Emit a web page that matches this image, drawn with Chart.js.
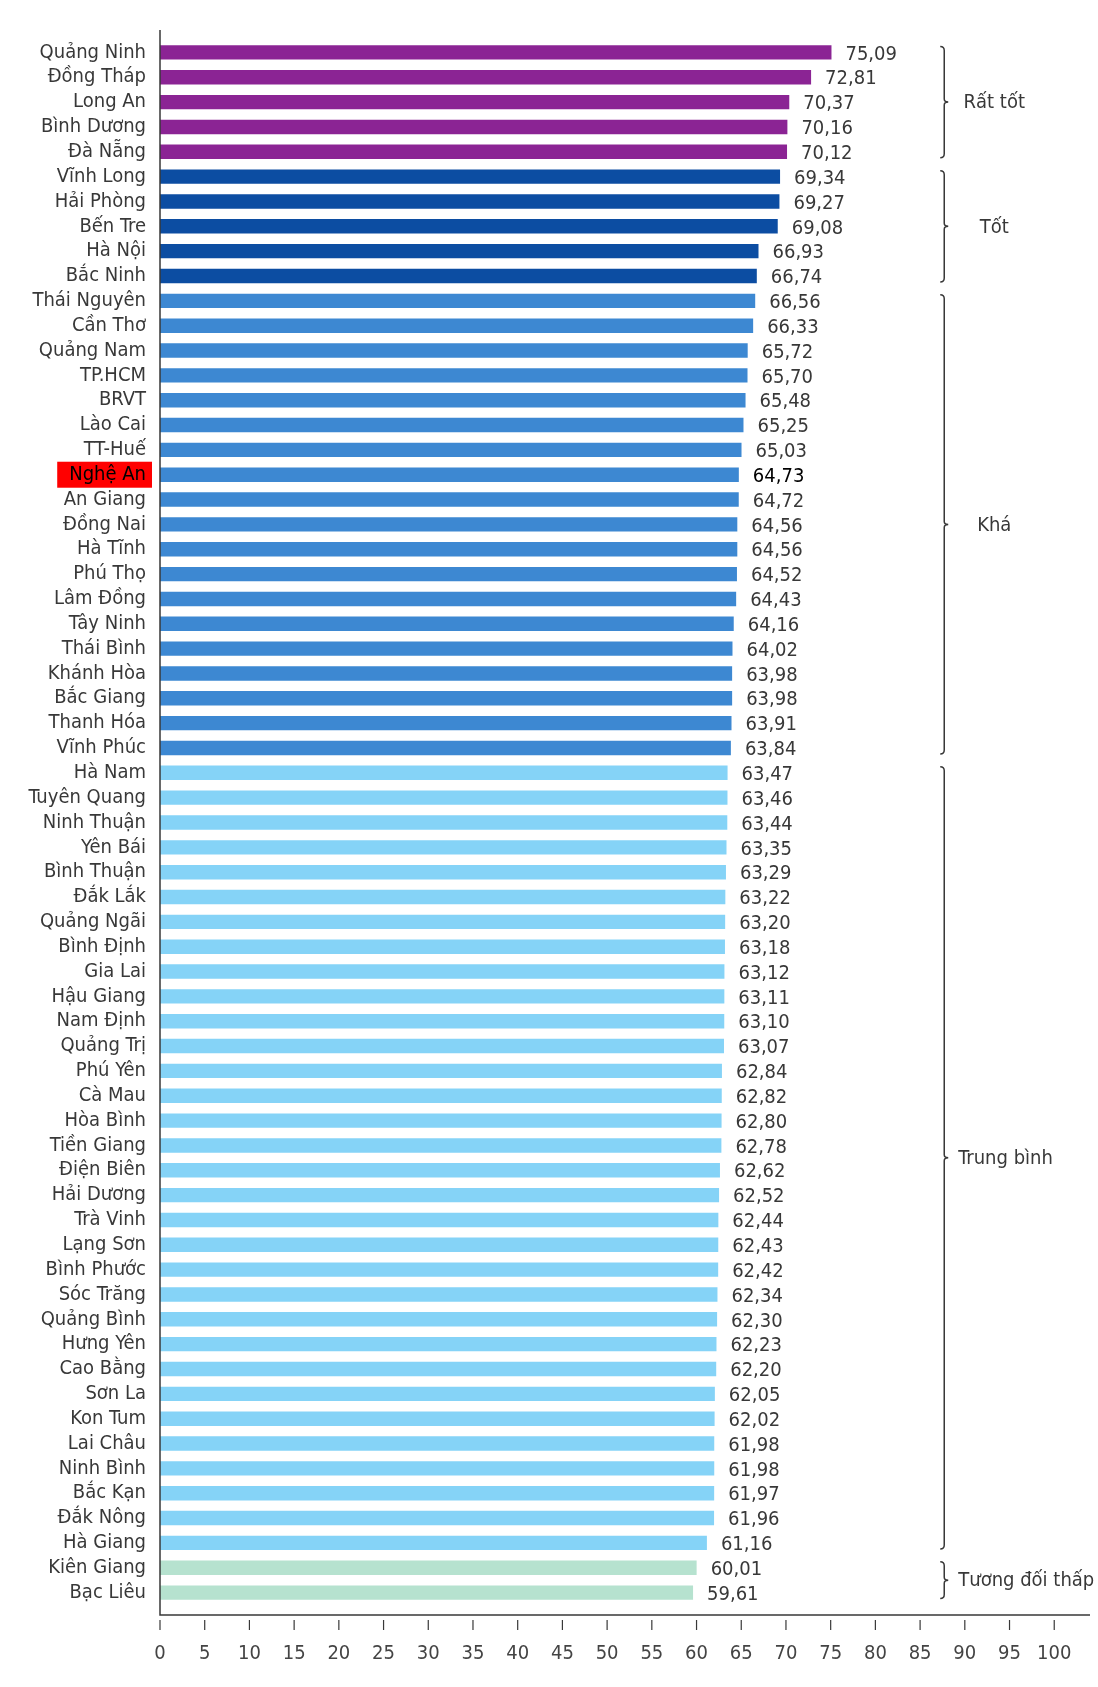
<!DOCTYPE html>
<html>
<head>
<meta charset="utf-8">
<script src="https://cdn.jsdelivr.net/npm/chart.js@4.4.1/dist/chart.umd.min.js"></script>
<style>
  html, body { margin: 0; padding: 0; background: #fff; }
  #chart { display: block; }
</style>
</head>
<body>
<canvas id="chart" width="1098" height="1687"></canvas>
<script>
const provinces = [
  "Quảng Ninh", "Đồng Tháp", "Long An", "Bình Dương", "Đà Nẵng",
  "Vĩnh Long", "Hải Phòng", "Bến Tre", "Hà Nội", "Bắc Ninh",
  "Thái Nguyên", "Cần Thơ", "Quảng Nam", "TP.HCM", "BRVT", "Lào Cai", "TT-Huế",
  "Nghệ An", "An Giang", "Đồng Nai", "Hà Tĩnh", "Phú Thọ", "Lâm Đồng", "Tây Ninh",
  "Thái Bình", "Khánh Hòa", "Bắc Giang", "Thanh Hóa", "Vĩnh Phúc",
  "Hà Nam", "Tuyên Quang", "Ninh Thuận", "Yên Bái", "Bình Thuận", "Đắk Lắk",
  "Quảng Ngãi", "Bình Định", "Gia Lai", "Hậu Giang", "Nam Định", "Quảng Trị",
  "Phú Yên", "Cà Mau", "Hòa Bình", "Tiền Giang", "Điện Biên", "Hải Dương",
  "Trà Vinh", "Lạng Sơn", "Bình Phước", "Sóc Trăng", "Quảng Bình", "Hưng Yên",
  "Cao Bằng", "Sơn La", "Kon Tum", "Lai Châu", "Ninh Bình", "Bắc Kạn",
  "Đắk Nông", "Hà Giang", "Kiên Giang", "Bạc Liêu"
];
const scores = [
  75.09, 72.81, 70.37, 70.16, 70.12,
  69.34, 69.27, 69.08, 66.93, 66.74,
  66.56, 66.33, 65.72, 65.70, 65.48, 65.25, 65.03,
  64.73, 64.72, 64.56, 64.56, 64.52, 64.43, 64.16,
  64.02, 63.98, 63.98, 63.91, 63.84,
  63.47, 63.46, 63.44, 63.35, 63.29, 63.22,
  63.20, 63.18, 63.12, 63.11, 63.10, 63.07,
  62.84, 62.82, 62.80, 62.78, 62.62, 62.52,
  62.44, 62.43, 62.42, 62.34, 62.30, 62.23,
  62.20, 62.05, 62.02, 61.98, 61.98, 61.97,
  61.96, 61.16, 60.01, 59.61
];
const groupNames = ["Rất tốt", "Tốt", "Khá", "Trung bình", "Tương đối thấp"];
const groupStart = [0, 5, 10, 29, 61];
const groupEnd = [4, 9, 28, 60, 62];
const groupColors = ["#8b2494", "#0c4da2", "#3d88d2", "#85d3f7", "#b6e2cf"];
const highlight = "Nghệ An";
const xTickValues = [0, 5, 10, 15, 20, 25, 30, 35, 40, 45, 50, 55, 60, 65, 70, 75, 80, 85, 90, 95, 100];

const FONT = "'Liberation Sans Narrow', 'DejaVu Sans Condensed', 'Roboto Condensed', Roboto, sans-serif";
const INK = "#383838";
const SIZE = 20;

function groupOf(i) {
  for (let g = 0; g < groupStart.length; g++) {
    if (i >= groupStart[g] && i <= groupEnd[g]) return g;
  }
  return 0;
}
const barColors = scores.map((_, i) => groupColors[groupOf(i)]);
const fmt = (v) => v.toFixed(2).replace(".", ",");

// red box behind the highlighted province name
const highlightBox = {
  id: "highlightBox",
  beforeDraw(chart) {
    const idx = provinces.indexOf(highlight);
    if (idx < 0) return;
    const y = chart.scales.y;
    const c = chart.ctx;
    c.save();
    c.font = SIZE + "px " + FONT;
    const w = c.measureText(highlight).width;
    const cy = y.getPixelForValue(idx);
    const right = chart.chartArea.left - 8;
    c.fillStyle = "#ff0000";
    c.fillRect(right - w - 18, cy - 13, w + 18, 26);
    c.restore();
  },
};

// value labels at the end of each bar
const valueLabels = {
  id: "valueLabels",
  afterDatasetsDraw(chart) {
    const c = chart.ctx;
    const meta = chart.getDatasetMeta(0);
    c.save();
    c.font = SIZE + "px " + FONT;
    c.textAlign = "left";
    c.textBaseline = "middle";
    meta.data.forEach((bar, i) => {
      c.fillStyle = provinces[i] === highlight ? "#000" : INK;
      c.fillText(fmt(scores[i]), bar.x + 14, bar.y + 2);
    });
    c.restore();
  },
};

// axis lines + x tick marks, slightly outside the plot area like the original
const axisFrame = {
  id: "axisFrame",
  afterDraw(chart) {
    const { ctx: c, chartArea: a, scales } = chart;
    const x0 = scales.x.getPixelForValue(0);
    const axisY = a.bottom + 10;
    c.save();
    c.strokeStyle = INK;
    c.lineWidth = 1.5;
    c.beginPath();
    c.moveTo(x0, a.top - 10);
    c.lineTo(x0, axisY);
    c.lineTo(a.right, axisY);
    c.stroke();
    c.lineWidth = 1.2;
    xTickValues.forEach((v) => {
      const px = scales.x.getPixelForValue(v);
      c.beginPath();
      c.moveTo(px, axisY + 5);
      c.lineTo(px, axisY + 15);
      c.stroke();
    });
    c.restore();
  },
};

// curly brackets with group names on the right
const groupBrackets = {
  id: "groupBrackets",
  afterDraw(chart) {
    const c = chart.ctx;
    const y = chart.scales.y;
    const bx = chart.scales.x.getPixelForValue(87.7);
    c.save();
    c.strokeStyle = INK;
    c.lineWidth = 1.5;
    c.font = SIZE + "px " + FONT;
    c.fillStyle = INK;
    c.textBaseline = "middle";
    c.textAlign = "center";
    groupNames.forEach((name, g) => {
      const top = y.getPixelForValue(groupStart[g]) - 6;
      const bot = y.getPixelForValue(groupEnd[g]) + 6;
      const mid = (top + bot) / 2;
      c.beginPath();
      c.moveTo(bx - 4, top);
      c.quadraticCurveTo(bx, top, bx, top + 4);
      c.lineTo(bx, mid - 3);
      c.quadraticCurveTo(bx, mid, bx + 4, mid);
      c.quadraticCurveTo(bx, mid, bx, mid + 3);
      c.lineTo(bx, bot - 4);
      c.quadraticCurveTo(bx, bot, bx - 4, bot);
      c.stroke();
      const w = c.measureText(name).width;
      const cx = Math.max(bx + 14 + w / 2, bx + 50);
      c.fillText(name, cx, mid + 1);
    });
    c.restore();
  },
};

new Chart(document.getElementById("chart"), {
  type: "bar",
  data: {
    labels: provinces,
    datasets: [{
      data: scores,
      backgroundColor: barColors,
      barPercentage: 0.58,
      categoryPercentage: 1,
    }],
  },
  options: {
    indexAxis: "y",
    responsive: false,
    devicePixelRatio: 1,
    animation: false,
    layout: { padding: { top: 40, right: 8, left: 0, bottom: 0 } },
    plugins: { legend: { display: false }, tooltip: { enabled: false } },
    scales: {
      y: {
        grid: { display: false, drawTicks: false },
        border: { display: false },
        afterFit: (s) => { s.width = 160; s.paddingTop = 0; s.paddingBottom = 0; },
        ticks: {
          autoSkip: false,
          padding: 14,
          color: (ctx) => (provinces[ctx.index] === highlight ? "#000" : INK),
          font: { family: FONT, size: SIZE },
        },
      },
      x: {
        min: 0,
        max: 104,
        grid: { display: false, drawTicks: false },
        border: { display: false },
        afterBuildTicks: (s) => { s.ticks = xTickValues.map((v) => ({ value: v })); },
        afterFit: (s) => { s.height = 82; s.paddingLeft = 0; s.paddingRight = 0; },
        ticks: {
          padding: 37,
          maxRotation: 0,
          color: "#444",
          font: { family: FONT, size: SIZE },
        },
      },
    },
  },
  plugins: [highlightBox, valueLabels, axisFrame, groupBrackets],
});
</script>
</body>
</html>
